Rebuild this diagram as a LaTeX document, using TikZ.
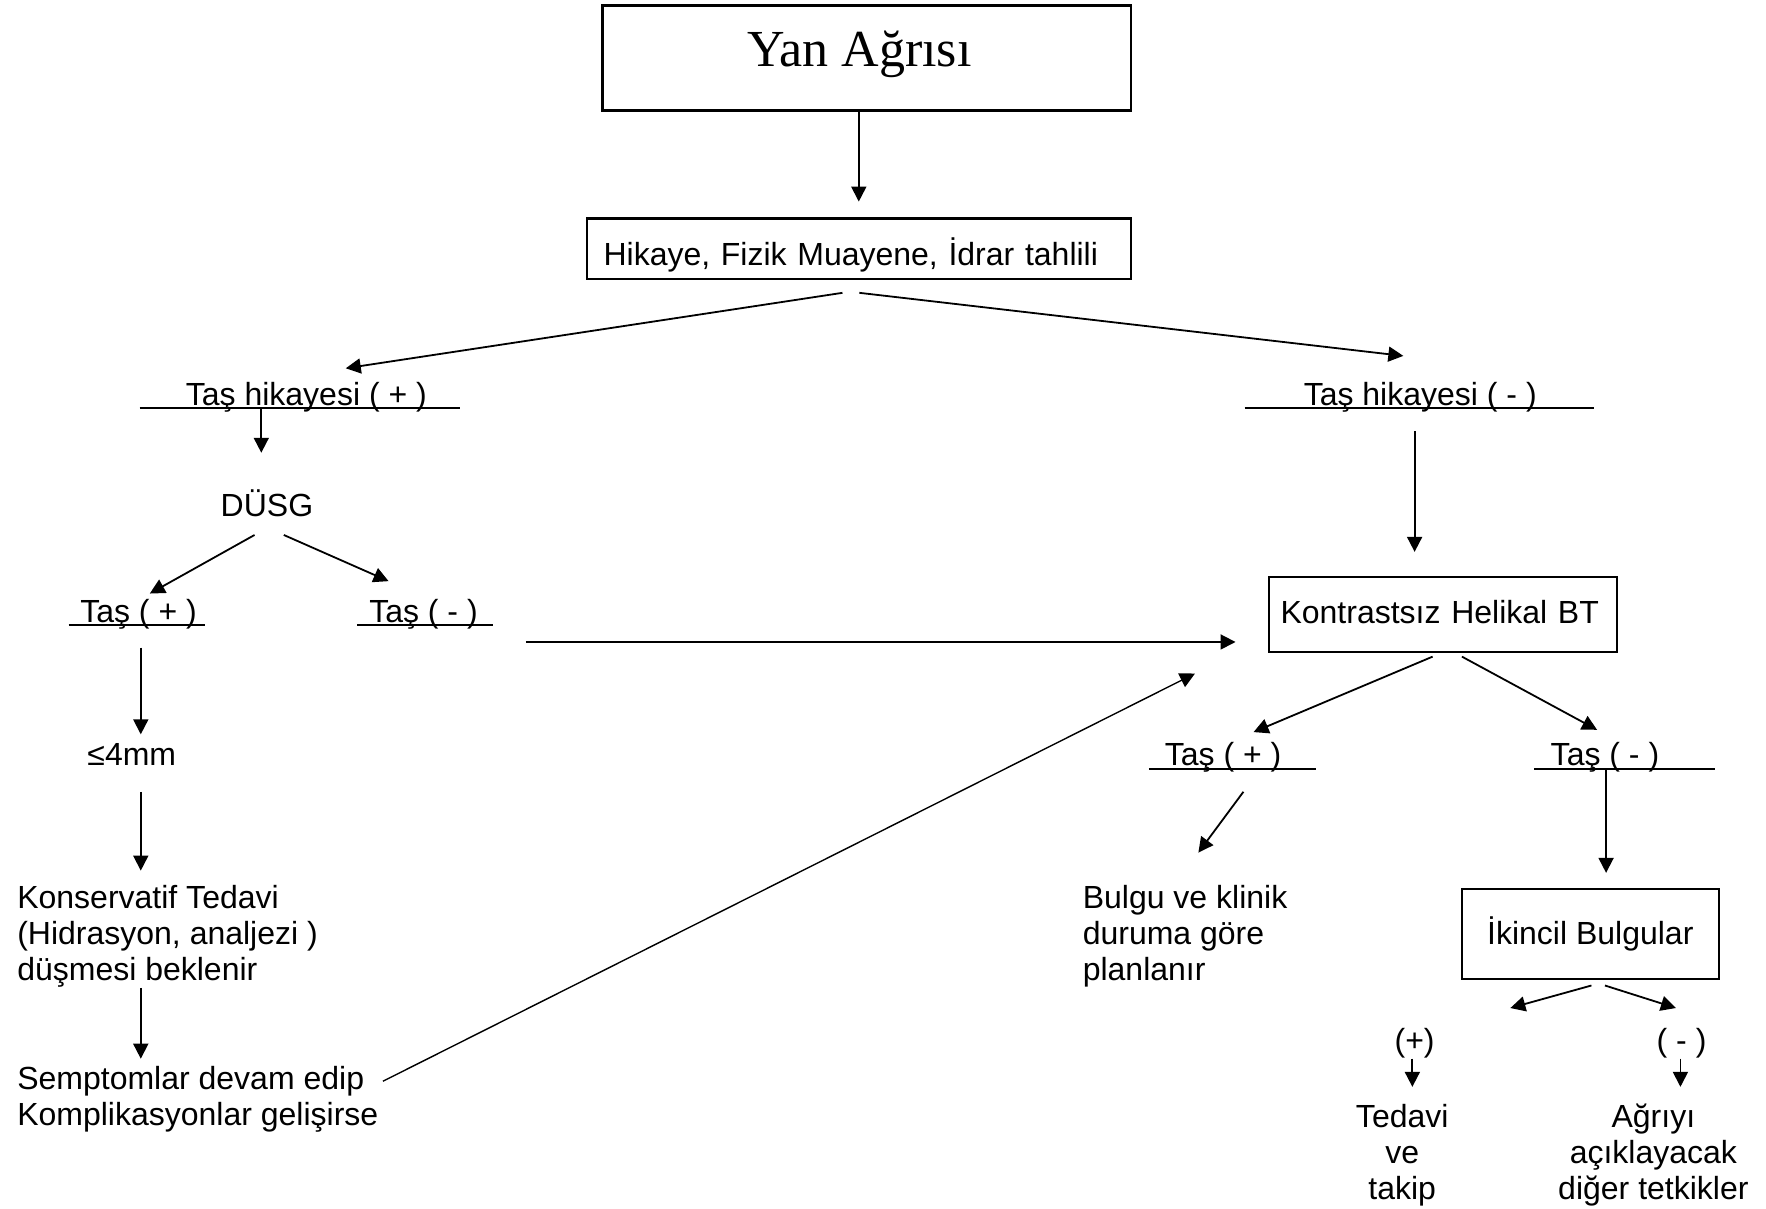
\documentclass[tikz,border=0pt]{standalone}
\usepackage{fontspec}
\setmainfont{Liberation Sans}
\newfontfamily\ttlfont{Liberation Serif}
\usetikzlibrary{arrows.meta}

\begin{document}
\begin{tikzpicture}[x=0.5631pt,y=-0.5631pt,
  every node/.style={font=\fontsize{16}{18.1}\selectfont,inner sep=0pt},
  box/.style={draw,line width=1.1pt},
  arr/.style={-{Triangle[length=7.5pt,width=7.5pt]},line width=0.9pt},
  uline/.style={line width=0.9pt}]
  \useasboundingbox (0,0) rectangle (1568,1073);

  \node [box,minimum width=264.1pt,minimum height=52.4pt] (title) at (769.5,51.5) {};
  \node [font=\ttlfont\fontsize{26}{30}\selectfont] (ttl) at (763,48.5) {Yan Ağrısı};
  \node [box,minimum height=30.4pt,text width=255.2pt,inner xsep=8.4pt,
    text height=16.6pt,text depth=0pt,align=left] (hik) at (762.5,221)
    {Hikaye, Fizik Muayene, İdrar tahlili};

  \node [anchor=base] (th1) at (272,360) {Taş hikayesi ( + )};
  \node [anchor=base] (th2) at (1261,360) {Taş hikayesi ( - )};
  \draw [uline] (124,362) -- (408,362);
  \draw [uline] (1105,362) -- (1415,362);

  \node (dusg) at (237,447) {DÜSG};
  \node [anchor=base] (tas1) at (123,553) {Taş ( + )};
  \node [anchor=base] (tas2) at (376,553) {Taş ( - )};
  \draw [uline] (61,555) -- (182,555);
  \draw [uline] (317,555) -- (438,555);

  \node [box,minimum height=37.7pt,text width=162.8pt,inner xsep=5.6pt,
    text height=11.6pt,text depth=2.4pt,align=left] (kbt) at (1281.5,545.5)
    {Kontrastsız Helikal BT};

  \node (le4) at (117,670) {≤4mm};
  \node [anchor=west,align=left] (kons) at (15,831.5)
    {Konservatif Tedavi\\(Hidrasyon, analjezi )\\düşmesi beklenir};
  \node [anchor=west,align=left] (semp) at (15,976)
    {Semptomlar devam edip\\Komplikasyonlar gelişirse};

  \node [anchor=base] (tas3) at (1086,680) {Taş ( + )};
  \node [anchor=base] (tas4) at (1425,680) {Taş ( - )};
  \draw [uline] (1020,683) -- (1168,683);
  \draw [uline] (1362,683) -- (1523,683);

  \node [anchor=west,align=left] (bulgu) at (961,831.5)
    {Bulgu ve klinik\\duruma göre\\planlanır};
  \node [box,minimum width=128.4pt,minimum height=45pt] (ikin) at (1412,829)
    {İkincil Bulgular};
  \node (plus) at (1256,926) {(+)};
  \node (minus) at (1493,926) {( - )};
  \node [align=center] (ted) at (1245,1025.5) {Tedavi\\ve\\takip};
  \node [align=center] (agri) at (1468,1025.5) {Ağrıyı\\açıklayacak\\diğer tetkikler};

  \draw [arr,shorten >=7.9pt] (title.south -| hik.north) -- (hik.north);
  \draw [arr] (748,260) -- (307,327);
  \draw [arr] (763,260) -- (1246,316);
  \draw [arr] (232,362) -- (232,402);
  \draw [arr] (1256,383) -- (1256,490);
  \draw [arr] (226,475) -- (133,527);
  \draw [arr] (252,475) -- (345,516);
  \draw [arr] (467,570) -- (1097,570);
  \draw [arr] (125,575) -- (125,652);
  \draw [arr] (125,703) -- (125,773);
  \draw [arr] (125,877) -- (125,940);
  \draw [arr,line width=0.7pt] (340,960) -- (1061,598);
  \draw [arr] (1272,583) -- (1113,650);
  \draw [arr] (1298,583) -- (1418,648);
  \draw [arr] (1104,703) -- (1064,757);
  \draw [arr] (1426,683) -- (1426,775);
  \draw [arr] (1413,875) -- (1341,895);
  \draw [arr] (1425,875) -- (1488,895);
  \draw [arr] (1254,940) -- (1254,965);
  \draw [arr] (1492,940) -- (1492,965);
\end{tikzpicture}
\end{document}
